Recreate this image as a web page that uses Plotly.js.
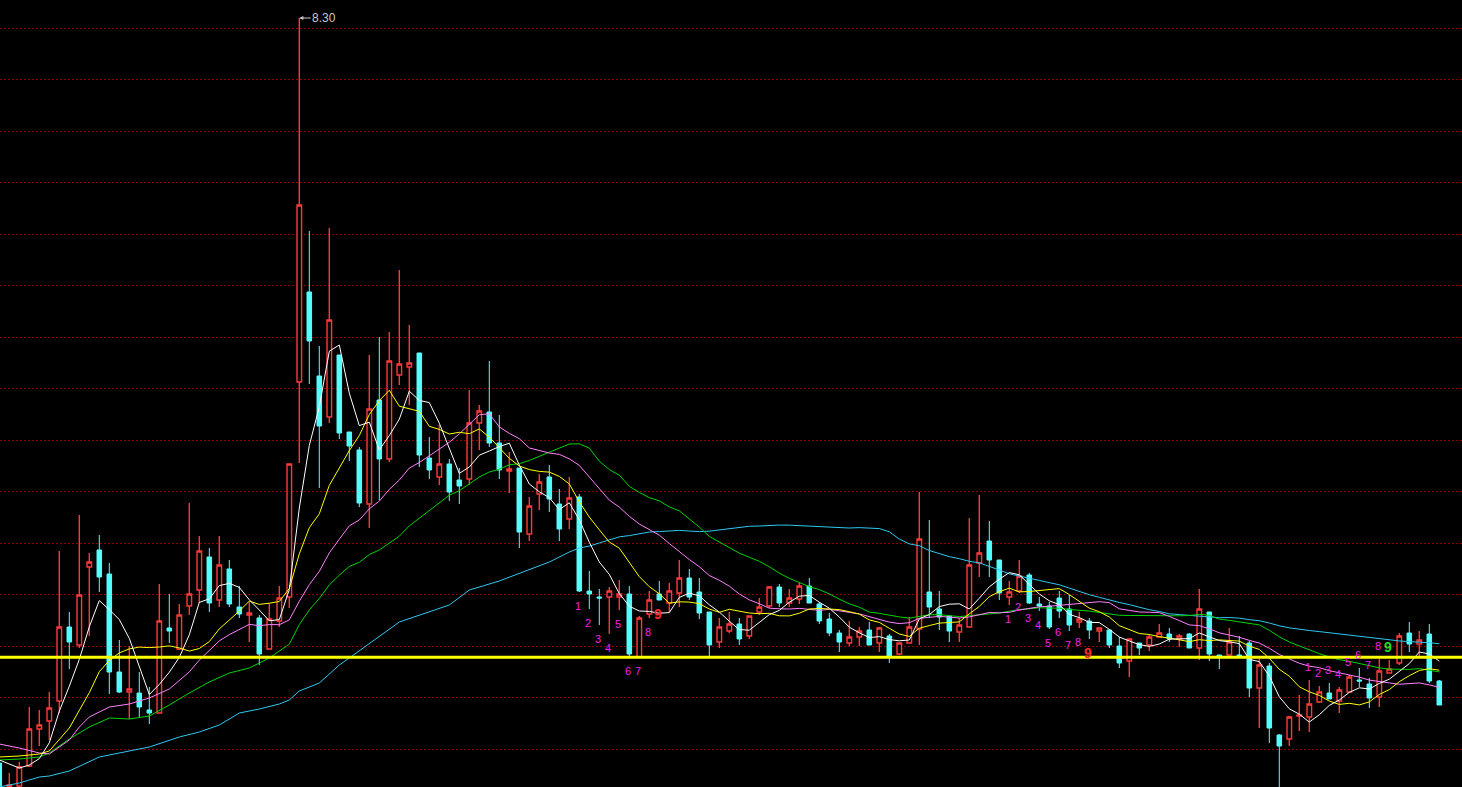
<!DOCTYPE html>
<html><head><meta charset="utf-8">
<script src="https://cdn.plot.ly/plotly-3.0.1.min.js"></script>
<style>html,body{margin:0;padding:0;background:#000;overflow:hidden}#chart{width:1462px;height:787px}</style>
</head><body><div id="chart"></div>
<script>
// Daily OHLC prices (one candle per session)
const openP = [4.575,4.455,4.46,4.56,4.745,4.785,4.885,5.255,5.165,5.555,
5.64,5.52,5.03,4.93,4.925,4.84,4.825,5.25,5.145,5.36,
5.44,5.605,5.39,5.545,5.355,5.315,5.3,5.145,5.285,5.405,
6.48,6.93,6.51,6.305,6.615,6.23,6.14,5.87,6.39,6.095,
6.515,6.555,6.625,6.1,6.005,6.07,5.99,5.995,6.275,6.33,
6.175,6.035,6.05,5.72,5.92,6.005,5.87,5.795,5.905,5.435,
5.405,5.405,5.405,5.42,5.105,5.32,5.42,5.375,5.425,5.5,
5.43,5.33,5.18,5.235,5.27,5.21,5.33,5.36,5.455,5.375,
5.395,5.46,5.37,5.295,5.225,5.175,5.205,5.24,5.175,5.21,
5.12,5.175,5.245,5.43,5.345,5.31,5.23,5.255,5.575,5.685,
5.59,5.405,5.435,5.515,5.37,5.36,5.4,5.345,5.28,5.285,
5.235,5.24,5.16,5.085,5.175,5.165,5.205,5.22,5.195,5.22,
5.15,5.33,5.115,5.115,5.115,5.175,4.95,5.06,4.715,4.695,
4.81,4.805,4.88,4.925,4.885,4.93,4.99,4.97,4.905,5.025,
5.075,5.225,5.17,5.22,4.985];
const highP = [4.575,4.525,4.58,4.855,4.84,4.93,5.635,5.33,5.815,5.625,
5.715,5.575,5.19,5.16,5.03,4.955,5.47,5.42,5.37,5.875,
5.71,5.65,5.71,5.59,5.46,5.38,5.315,5.375,5.46,6.07,
8.30,7.235,6.66,7.25,6.615,6.23,6.155,6.615,6.705,6.73,
7.04,6.765,6.625,6.205,6.265,6.095,6.05,6.44,6.365,6.585,
6.315,6.13,6.05,5.905,6.02,6.065,5.945,6.005,5.92,5.535,
5.445,5.455,5.49,5.46,5.31,5.435,5.485,5.475,5.59,5.545,
5.5,5.33,5.3,5.33,5.3,5.31,5.4,5.46,5.47,5.445,
5.475,5.5,5.38,5.325,5.24,5.285,5.255,5.28,5.255,5.22,
5.175,5.305,5.93,5.79,5.435,5.315,5.3,5.8,5.915,5.785,
5.59,5.485,5.59,5.525,5.405,5.38,5.435,5.415,5.33,5.3,
5.25,5.24,5.205,5.195,5.175,5.22,5.27,5.25,5.22,5.225,
5.445,5.33,5.115,5.25,5.21,5.185,5.095,5.075,4.72,4.81,
4.915,4.99,4.96,4.975,4.955,5.015,5.05,5.0,5.095,5.09,
5.225,5.28,5.235,5.27,4.99];
const lowP = [4.455,4.455,4.455,4.555,4.66,4.69,4.825,5.045,5.15,5.21,
5.43,4.92,4.925,4.795,4.805,4.77,4.825,5.175,5.14,5.315,
5.375,5.33,5.355,5.355,5.3,5.18,5.065,5.145,5.255,5.35,
6.075,6.47,5.95,6.275,6.195,6.085,5.855,5.75,5.89,6.08,
6.465,6.365,6.055,5.995,5.965,5.885,5.87,5.965,6.14,6.155,
5.995,5.925,5.65,5.685,5.84,5.83,5.685,5.745,5.43,5.345,
5.265,5.22,5.34,5.105,5.105,5.3,5.39,5.33,5.355,5.39,
5.295,5.105,5.15,5.225,5.165,5.195,5.315,5.35,5.355,5.355,
5.37,5.375,5.27,5.21,5.13,5.16,5.16,5.165,5.13,5.075,
5.115,5.175,5.165,5.3,5.24,5.18,5.18,5.255,5.505,5.505,
5.39,5.365,5.425,5.37,5.335,5.245,5.3,5.235,5.25,5.195,
5.18,5.15,5.05,5.005,5.115,5.135,5.205,5.18,5.155,5.15,
5.09,5.085,5.045,5.115,5.1,4.905,4.75,4.675,4.45,4.66,
4.735,4.73,4.875,4.895,4.825,4.93,4.955,4.85,4.855,5.025,
5.065,5.13,5.1,4.975,4.865];
const closeP = [4.455,4.465,4.555,4.745,4.765,4.85,5.255,5.18,5.415,5.58,
5.505,5.03,4.93,4.945,4.855,4.825,5.285,5.235,5.315,5.42,
5.635,5.375,5.565,5.37,5.32,5.325,5.12,5.295,5.4,6.07,
7.365,6.685,6.26,6.79,6.225,6.16,5.875,6.345,6.095,6.585,
6.57,6.575,6.115,6.04,6.07,5.93,5.96,6.275,6.335,6.175,
6.04,6.045,5.73,5.86,5.98,5.895,5.745,5.9,5.435,5.42,
5.4,5.435,5.42,5.12,5.3,5.39,5.39,5.435,5.5,5.405,
5.325,5.165,5.255,5.27,5.195,5.31,5.355,5.455,5.375,5.4,
5.46,5.375,5.285,5.225,5.18,5.205,5.235,5.165,5.25,5.105,
5.175,5.255,5.695,5.355,5.305,5.235,5.265,5.565,5.625,5.59,
5.425,5.43,5.51,5.375,5.36,5.255,5.335,5.265,5.295,5.24,
5.25,5.165,5.075,5.195,5.15,5.205,5.225,5.195,5.21,5.15,
5.345,5.12,5.11,5.18,5.105,4.95,5.065,4.75,4.66,4.805,
4.815,4.87,4.93,4.895,4.94,5.005,4.985,4.9,5.035,5.045,
5.21,5.17,5.19,4.985,4.865];

const ma5LeadIdx = [0,1,2,3];
const ma5Lead = [4.59,4.57,4.55,4.565];
const ma10LeadIdx = [0,2,4,5,7,8];
const ma10Lead = [4.605,4.61,4.62,4.635,4.75,4.84];
const ma20LeadIdx = [0,2,4,5,7,8,9,11,13,15,17];
const ma20Lead = [4.67,4.65,4.625,4.62,4.69,4.755,4.805,4.855,4.87,4.9,4.945];
const ma30LeadIdx = [0,2,4,5,7,9,11,13,15,17,19,21,23,25,27,28];
const ma30Lead = [4.59,4.595,4.605,4.625,4.695,4.755,4.8,4.795,4.81,4.865,4.925,4.98,5.025,5.05,5.1,5.135];
const ma60LeadIdx = [0,2,4,5,7,10,15,18,20,22,24,26,28,29,30,32,34,35,40,45,47,50,55,57,58];
const ma60Lead = [4.455,4.475,4.505,4.51,4.535,4.605,4.655,4.705,4.73,4.765,4.825,4.845,4.87,4.89,4.935,4.975,5.065,5.1,5.28,5.365,5.44,5.485,5.58,5.63,5.65];

const supportLevel = 5.1035;
const peakIndex = 30;
const peakText = '8.30';

// Sequential count labels
const tdIdx  = [58,59,60,61,62,63,64,65,66, 101,102,103,104,105,106,107,108,109, 131,132,133,134,135,136,137,138,139];
const tdText = ['1','2','3','4','5','6','7','8','9','1','2','3','4','5','6','7','8','9','1','2','3','4','5','6','7','8','9'];
const tdSide = ['b','b','b','b','b','b','b','b','b','b','b','b','b','b','b','b','b','b','a','a','a','a','a','a','a','a','a'];

const idx = closeP.map((_, i) => i);

function movingAverage(n, leadIdx, leadVals) {
  const xs = leadIdx.slice(), ys = leadVals.slice();
  for (let i = n - 1; i < closeP.length; i++) {
    let s = 0;
    for (let j = i - n + 1; j <= i; j++) s += closeP[j];
    xs.push(i); ys.push(s / n);
  }
  return {xs, ys};
}

const maDefs = [
  {n:5, li:ma5LeadIdx, lv:ma5Lead, color:'#ffffff'},
  {n:10, li:ma10LeadIdx, lv:ma10Lead, color:'#ffff00'},
  {n:20, li:ma20LeadIdx, lv:ma20Lead, color:'#ff80ff'},
  {n:30, li:ma30LeadIdx, lv:ma30Lead, color:'#00d400'},
  {n:60, li:ma60LeadIdx, lv:ma60Lead, color:'#30c8f0'}
];

const traces = [{
  type:'candlestick', x: idx, open: openP, high: highP, low: lowP, close: closeP,
  increasing:{line:{color:'#ff3838', width:1.4}, fillcolor:'#000000'},
  decreasing:{line:{color:'#54ffff', width:1}, fillcolor:'#54ffff'},
  whiskerwidth: 0, hoverinfo:'skip', showlegend:false
}];
maDefs.slice().reverse().forEach(d => {
  const m = movingAverage(d.n, d.li, d.lv);
  traces.push({type:'scatter', mode:'lines', x:m.xs, y:m.ys, line:{color:d.color, width:1}, hoverinfo:'skip', showlegend:false, name:'MA'+d.n});
});

const annotations = [{
  x: peakIndex, y: highP[peakIndex], xref:'x', yref:'y', text: peakText,
  showarrow:true, ax:25, ay:0, arrowhead:2, arrowsize:0.8, arrowwidth:1, arrowcolor:'#c8c8c8', standoff:0,
  font:{family:'Liberation Sans, Arial, sans-serif', size:12, color:'#c8c8c8'}
}];
tdIdx.forEach((k, i) => {
  const isNine = tdText[i] === '9';
  const below = tdSide[i] === 'b';
  let color = '#f020f0';
  if (isNine) color = below ? '#ff2a2a' : '#22dd22';
  annotations.push({
    x: k, y: below ? lowP[k] : highP[k], xref:'x', yref:'y', text: tdText[i], showarrow:false,
    yshift: below ? -14 : 13, xshift: -1,
    font:{family:'Liberation Sans, Arial, sans-serif', size: isNine ? 14 : 11, color: color, weight: isNine ? 700 : 400}
  });
});

const layout = {
  width:1462, height:787, margin:{l:0, r:0, t:0, b:0},
  paper_bgcolor:'#000000', plot_bgcolor:'#000000', showlegend:false,
  boxgap:0.35,
  xaxis:{range:[0.07, 146.27], showgrid:false, zeroline:false, showticklabels:false, showline:false, ticks:'', rangeslider:{visible:false}},
  yaxis:{range:[4.455, 8.39], tickmode:'linear', tick0:8.2485, dtick:0.2575, showgrid:true, gridcolor:'#8c0000', gridwidth:1, griddash:'2px,2px', zeroline:false, showticklabels:false, showline:false, ticks:''},
  shapes:[{type:'line', xref:'paper', x0:0, x1:1, yref:'y', y0:supportLevel, y1:supportLevel, line:{color:'#ffff00', width:3}, layer:'above'}],
  annotations: annotations
};

Plotly.newPlot('chart', traces, layout, {staticPlot:true, displayModeBar:false});
</script></body></html>
